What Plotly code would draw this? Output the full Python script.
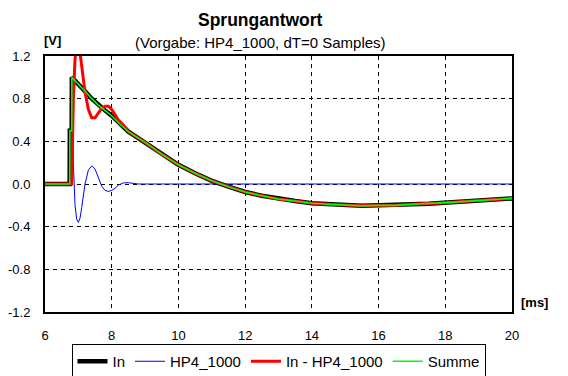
import plotly.graph_objects as go

# ---- data ----
t_in = [6.0, 6.74, 6.745, 6.80, 6.805, 7.0, 7.2, 7.4, 7.6, 7.8, 8.0, 8.25, 8.5, 8.75, 9.0,
        9.5, 10.0, 10.5, 11.0, 11.5, 12.0, 12.5, 13.0, 13.5, 14.0, 14.5, 15.0, 15.5,
        16.0, 16.5, 17.0, 17.5, 18.0, 18.5, 19.0, 19.5, 20.0]
v_in = [0.0, 0.0, 0.5, 0.5, 1.0, 0.94, 0.87, 0.80, 0.74, 0.69, 0.64, 0.56, 0.49, 0.44, 0.39,
        0.28, 0.18, 0.10, 0.03, -0.025, -0.075, -0.11, -0.14, -0.16, -0.18, -0.19, -0.20, -0.205,
        -0.20, -0.20, -0.19, -0.185, -0.175, -0.165, -0.155, -0.145, -0.135]

t_hp = [6.0, 6.74, 6.745, 6.80, 6.805, 6.85, 6.9, 6.95, 7.0, 7.05, 7.1, 7.2, 7.3, 7.4, 7.5,
        7.6, 7.7, 7.8, 7.9, 8.0, 8.1, 8.2, 8.35, 8.5, 8.65, 8.8, 20.0]
v_hp = [0.0, 0.0, 0.5, 0.5, 1.0, 0.2, -0.2, -0.33, -0.36, -0.32, -0.22, 0.0, 0.13, 0.17, 0.14,
        0.06, -0.02, -0.06, -0.07, -0.06, -0.04, -0.01, 0.01, 0.012, 0.005, 0.0, 0.0]

t_diff = [6.0, 6.80, 6.85, 6.9, 6.95, 7.0, 7.05, 7.1, 7.2, 7.3, 7.4, 7.5, 7.6, 7.7, 7.8,
          7.9, 8.0, 8.1, 8.2, 8.35, 8.5, 8.75, 9.0,
          9.5, 10.0, 10.5, 11.0, 11.5, 12.0, 12.5, 13.0, 13.5, 14.0, 14.5, 15.0, 15.5,
          16.0, 16.5, 17.0, 17.5, 18.0, 18.5, 19.0, 19.5, 20.0]
v_diff = [0.0, 0.0, 0.8, 1.17, 1.29, 1.29, 1.23, 1.11, 0.86, 0.70, 0.62, 0.62, 0.66, 0.71, 0.73,
          0.73, 0.70, 0.65, 0.60, 0.55, 0.49, 0.44, 0.39,
          0.28, 0.18, 0.10, 0.03, -0.025, -0.075, -0.11, -0.14, -0.16, -0.18, -0.19, -0.20, -0.205,
          -0.20, -0.20, -0.19, -0.185, -0.175, -0.165, -0.155, -0.145, -0.135]

t_sum = list(t_in)
v_sum = [0.0, 0.0, 0.5, 0.5, 1.0, 0.94, 0.87, 0.80, 0.74, 0.69, 0.64, 0.56, 0.49, 0.44, 0.39,
         0.28, 0.18, 0.10, 0.03, -0.025, -0.075, -0.11, -0.14, -0.16, -0.18, -0.19, -0.20, -0.205,
         -0.20, -0.20, -0.19, -0.185, -0.175, -0.165, -0.155, -0.145, -0.135]

x_ticks = [6, 8, 10, 12, 14, 16, 18, 20]
y_ticks = [-1.2, -0.8, -0.4, 0.0, 0.4, 0.8, 1.2]
y_tick_text = ["-1.2", "-0.8", "-0.4", "0.0", "0.4", "0.8", "1.2"]

FONT = "Arial, Liberation Sans, sans-serif"

fig = go.Figure()
fig.add_trace(go.Scatter(x=t_in, y=v_in, mode="lines", name="In",
                         line=dict(color="black", width=4.5)))
fig.add_trace(go.Scatter(x=t_hp, y=v_hp, mode="lines", name="HP4_1000",
                         line=dict(color="#0000ff", width=1)))
fig.add_trace(go.Scatter(x=t_diff, y=v_diff, mode="lines", name="In - HP4_1000",
                         line=dict(color="#ff0000", width=3)))
fig.add_trace(go.Scatter(x=t_sum, y=v_sum, mode="lines", name="Summe",
                         line=dict(color="#00ff00", width=1.6)))

fig.update_xaxes(range=[6, 20], tickvals=x_ticks, ticktext=[str(v) for v in x_ticks],
                 showgrid=True, gridcolor="black", gridwidth=1, griddash="4px,4px",
                 zeroline=False, showline=True, linecolor="black", linewidth=2, mirror=True,
                 ticks="", ticklabelstandoff=10,
                 tickfont=dict(family=FONT, size=13, color="black"))
fig.update_yaxes(range=[-1.2, 1.2], tickvals=y_ticks, ticktext=y_tick_text,
                 showgrid=True, gridcolor="black", gridwidth=1, griddash="4px,4px",
                 zeroline=False, showline=True, linecolor="black", linewidth=2, mirror=True,
                 ticks="", ticklabelstandoff=10,
                 tickfont=dict(family=FONT, size=13, color="black"))

# the page adds an 8px body margin, so the figure is 8px smaller and its margins shifted
fig.update_layout(
    width=560, height=368,
    margin=dict(l=37, r=56, t=48, b=64, autoexpand=False),
    paper_bgcolor="white", plot_bgcolor="white",
    font=dict(family=FONT, color="black"),
    showlegend=True,
    legend=dict(orientation="h", x=0.5, xanchor="center", y=-0.125, yanchor="top",
                bordercolor="black", borderwidth=1, bgcolor="white",
                font=dict(family=FONT, size=15, color="black"),
                itemwidth=30, tracegroupgap=0),
    annotations=[
        dict(text="<b>Sprungantwort</b>", x=0.4625, y=1.1406, xref="paper", yref="paper",
             xanchor="center", yanchor="middle", showarrow=False,
             font=dict(family=FONT, size=17.5, color="black")),
        dict(text="(Vorgabe: HP4_1000, dT=0 Samples)", x=0.4625, y=1.0508, xref="paper", yref="paper",
             xanchor="center", yanchor="middle", showarrow=False,
             font=dict(family=FONT, size=15, color="black")),
        dict(text="<b>[V]</b>", x=0.016, y=1.0625, xref="paper", yref="paper",
             xanchor="center", yanchor="middle", showarrow=False,
             font=dict(family=FONT, size=13, color="black")),
        dict(text="<b>[ms]</b>", x=1.048, y=0.036, xref="paper", yref="paper",
             xanchor="center", yanchor="middle", showarrow=False,
             font=dict(family=FONT, size=13, color="black")),
    ],
)

fig.write_html("out.html")
